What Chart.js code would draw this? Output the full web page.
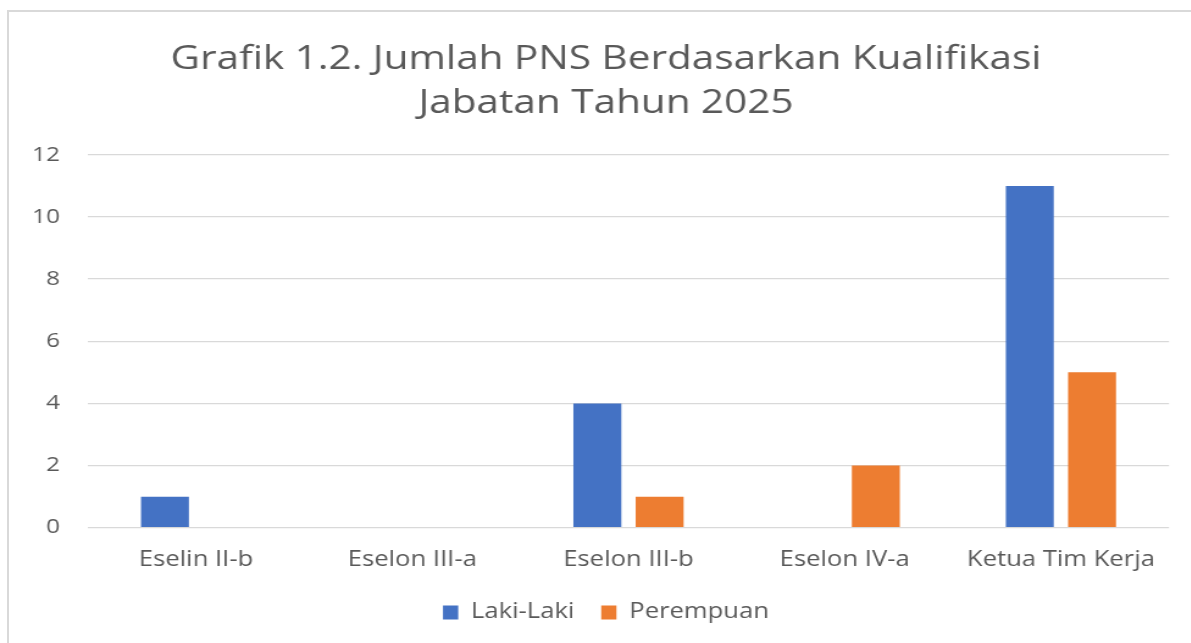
<!DOCTYPE html>
<html>
<head>
<meta charset="utf-8">
<script src="https://cdn.jsdelivr.net/npm/chart.js@4.4.1/dist/chart.umd.min.js"></script>
<style>
  html, body { margin: 0; padding: 0; background: #ffffff; overflow: hidden; width: 1191px; height: 643px; }
  #frame { position: absolute; left: 7px; top: 10px; width: 1220px; height: 700px; border: 2px solid #d9d9d9; box-sizing: border-box; }
  #c { position: absolute; left: 0; top: 0; transform: scaleX(1.22); transform-origin: 0 0; }
</style>
</head>
<body>
<div id="frame"></div>
<canvas id="c" width="976" height="643" style="width:976px;height:643px"></canvas>
<script>
const titleLines = ['Grafik 1.2. Jumlah PNS Berdasarkan Kualifikasi', 'Jabatan Tahun 2025'];
const categories = ['Eselin II-b', 'Eselon III-a', 'Eselon III-b', 'Eselon IV-a', 'Ketua Tim Kerja'];
const seriesNames = ['Laki-Laki', 'Perempuan'];
const lakiLaki = [1, 0, 4, 0, 11];
const perempuan = [0, 0, 1, 2, 5];
const yTicks = [0, 2, 4, 6, 8, 10, 12];

const textColor = '#595959';
const gridColor = '#d9d9d9';
const font = 'Open Sans';

new Chart(document.getElementById('c'), {
  type: 'bar',
  data: {
    labels: categories,
    datasets: [
      { label: seriesNames[0], data: lakiLaki, backgroundColor: '#4472C4', borderWidth: 0 },
      { label: seriesNames[1], data: perempuan, backgroundColor: '#ED7D31', borderWidth: 0 }
    ]
  },
  options: {
    responsive: false,
    maintainAspectRatio: false,
    animation: false,
    devicePixelRatio: 1,
    layout: { padding: { left: 17.4, right: 0, top: 0, bottom: 10 } },
    datasets: { bar: { categoryPercentage: 0.576, barPercentage: 0.77 } },
    plugins: {
      tooltip: { enabled: false },
      title: {
        display: true,
        text: titleLines,
        color: textColor,
        font: { family: font, size: 33.2, weight: 'normal', lineHeight: 1.33 },
        padding: { top: 37, bottom: 29.5 }
      },
      legend: {
        position: 'bottom',
        labels: {
          color: textColor,
          font: { family: font, size: 21 },
          boxWidth: 12.5,
          boxHeight: 14,
          padding: 22
        }
      }
    },
    scales: {
      x: {
        grid: { display: false, drawTicks: false },
        border: { display: false },
        ticks: { color: textColor, font: { family: font, size: 21 }, padding: 20, maxRotation: 0 },
        afterFit: (s) => { s.height = 52.3; }
      },
      y: {
        min: 0, max: 12,
        afterBuildTicks: (s) => { s.ticks = yTicks.map(v => ({ value: v })); },
        grid: { color: gridColor, lineWidth: 1.3, drawTicks: false },
        border: { display: false },
        ticks: { color: textColor, font: { family: font, size: 20 }, padding: 22.9 },
        afterFit: (s) => { s.width = 54.7; }
      },
      y2: {
        position: 'right',
        display: true,
        grid: { display: false, drawTicks: false },
        border: { display: false },
        ticks: { display: false },
        afterFit: (s) => { s.width = 17.8; }
      }
    }
  }
});
</script>
</body>
</html>
